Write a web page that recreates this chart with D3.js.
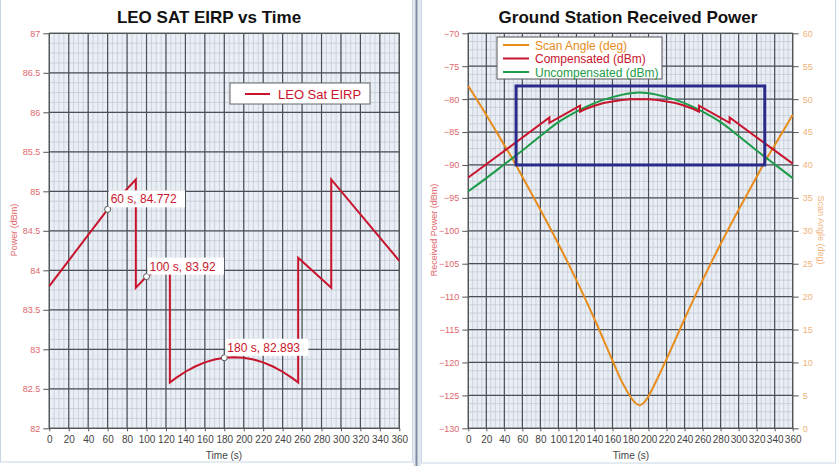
<!DOCTYPE html>
<html>
<head>
<meta charset="utf-8">
<script src="https://cdn.jsdelivr.net/npm/d3@7"></script>
<style>
  body { margin: 0; background: #fff; }
  svg { display: block; font-family: Arial, "Liberation Sans", sans-serif; }
</style>
</head>
<body>
<svg width="836" height="466"></svg>
<script>
// ---- data ----
var timeTicks = [0, 20, 40, 60, 80, 100, 120, 140, 160, 180, 200, 220, 240, 260, 280, 300, 320, 340, 360];
var eirpTicks = [82, 82.5, 83, 83.5, 84, 84.5, 85, 85.5, 86, 86.5, 87];
var rxTicks = [-130, -125, -120, -115, -110, -105, -100, -95, -90, -85, -80, -75, -70];
var angleTicks = [0, 5, 10, 15, 20, 25, 30, 35, 40, 45, 50, 55, 60];

// [time s, power dBm]
var eirp = [[0, 83.8], [60, 84.772], [89, 85.15], [89, 83.78], [100, 83.92], [124, 84.1], [124, 82.58],
  [130, 82.635], [140, 82.716], [150, 82.782], [160, 82.834], [170, 82.871], [180, 82.893], [190, 82.9],
  [200, 82.893], [210, 82.871], [220, 82.834], [230, 82.782], [240, 82.716], [250, 82.635], [256, 82.58],
  [256, 84.16], [290, 83.78], [290, 85.15], [360, 84.12]];
var eirpNotes = [[60, 84.772, "60 s, 84.772"], [100, 83.92, "100 s, 83.92"], [180, 82.893, "180 s, 82.893"]];

// [time s, scan angle deg]
var scanAngle = [[0, 52.0], [20, 47.6], [40, 43.0], [53, 40.0], [60, 38.2], [80, 33.2], [100, 28.0],
  [120, 22.5], [140, 16.6], [160, 10.3], [170, 7.2], [180, 4.8], [185, 3.9], [190, 3.5], [195, 3.9],
  [200, 4.9], [210, 7.6], [220, 10.5], [240, 16.6], [260, 22.5], [280, 28.0], [300, 33.2], [320, 38.2],
  [327, 40.0], [340, 43.0], [360, 47.6]];
// [time s, received power dBm]
var compensated = [[0, -91.9], [90, -82.8], [90, -83.6], [124, -81.0], [124, -81.9], [130, -81.5],
  [140, -81.0], [150, -80.6], [160, -80.35], [170, -80.15], [180, -80.03], [190, -80.0], [200, -80.03],
  [210, -80.15], [220, -80.35], [230, -80.6], [240, -81.0], [250, -81.5], [256, -81.9], [256, -81.0],
  [290, -83.6], [290, -82.8], [360, -89.8]];
var uncompensated = [[0, -94.0], [20, -92.0], [40, -89.9], [60, -87.8], [80, -85.6], [100, -83.5],
  [120, -81.9], [140, -80.6], [160, -79.7], [180, -79.1], [190, -79.0], [200, -79.1], [220, -79.7],
  [240, -80.6], [260, -81.9], [280, -83.5], [300, -85.6], [320, -87.8], [340, -89.9], [360, -92.0]];
// highlight box: time range, power range
var boxTime = [53, 329];
var boxPower = [-90, -78];

var svg = d3.select("svg");

var red = "#c8142c", orange = "#e88c1c", green = "#1c9c48", navy = "#2a2a8c";
var redLabel = "#e0686c", orangeLabel = "#f0b27a";

// panels
svg.append("rect").attr("width", 836).attr("height", 466).attr("fill", "#fff");
svg.append("rect").attr("x", 0.5).attr("y", -1).attr("width", 412).attr("height", 463)
    .attr("fill", "#fff").attr("stroke", "#c9d6e6");
svg.append("rect").attr("x", 413).attr("y", 0).attr("width", 8).attr("height", 466).attr("fill", "#e3e8ef");
svg.append("line").attr("x1", 416.5).attr("x2", 416.5).attr("y1", 0).attr("y2", 466)
    .attr("stroke", "#7f8ea3").attr("stroke-width", 2);
svg.append("rect").attr("x", 421.5).attr("y", -1).attr("width", 414).attr("height", 464)
    .attr("fill", "#fff").attr("stroke", "#c9d6e6");

function drawGrid(g, x, y, yMinor) {
  var w = x.range()[1], h = y.range()[0];
  g.append("rect").attr("width", w).attr("height", h).attr("fill", "#eaeef5");
  g.append("g").selectAll("line").data(d3.range(0, 361, 5)).enter().append("line")
      .attr("x1", x).attr("x2", x).attr("y1", 0).attr("y2", h)
      .attr("stroke", "#c4cbd7").attr("stroke-width", 0.8);
  g.append("g").selectAll("line").data(yMinor).enter().append("line")
      .attr("x1", 0).attr("x2", w).attr("y1", y).attr("y2", y)
      .attr("stroke", "#c4cbd7").attr("stroke-width", 0.8);
  g.append("g").selectAll("line").data(timeTicks).enter().append("line")
      .attr("x1", x).attr("x2", x).attr("y1", 0).attr("y2", h)
      .attr("stroke", "#4a4f58").attr("stroke-width", 1.2);
  g.append("g").selectAll("line").data(y.ticksList).enter().append("line")
      .attr("x1", 0).attr("x2", w).attr("y1", y).attr("y2", y)
      .attr("stroke", "#4a4f58").attr("stroke-width", 1.2);
}

function styleAxis(sel, color, size) {
  sel.select(".domain").remove();
  sel.selectAll(".tick line").attr("stroke", "#555");
  sel.selectAll(".tick text").attr("fill", color).style("font-size", size + "px");
}

// ---------------- left chart ----------------
var W1 = 350, H1 = 395;
var g1 = svg.append("g").attr("transform", "translate(49.3,33.3)");
var x1 = d3.scaleLinear().domain([0, 360]).range([0, W1]);
var y1 = d3.scaleLinear().domain([82, 87]).range([H1, 0]);
y1.ticksList = eirpTicks;

drawGrid(g1, x1, y1, d3.range(82, 87.001, 0.125));

g1.append("g").attr("transform", "translate(0," + H1 + ")")
    .call(d3.axisBottom(x1).tickValues(timeTicks).tickSize(3).tickPadding(5))
    .call(styleAxis, "#444", 10);
g1.append("g")
    .call(d3.axisLeft(y1).tickValues(eirpTicks).tickSize(6).tickPadding(3).tickFormat(d3.format("")))
    .call(styleAxis, redLabel, 9);
g1.append("rect").attr("width", W1).attr("height", H1).attr("fill", "none").attr("stroke", "#555");

var line1 = d3.line().x(function(d) { return x1(d[0]); }).y(function(d) { return y1(d[1]); });
g1.append("path").datum(eirp).attr("d", line1)
    .attr("fill", "none").attr("stroke", red).attr("stroke-width", 2);

var note = g1.selectAll(".note").data(eirpNotes).enter().append("g").attr("class", "note");
note.append("circle")
    .attr("cx", function(d) { return x1(d[0]); })
    .attr("cy", function(d) { return y1(d[1]); })
    .attr("r", 3).attr("fill", "#fff").attr("stroke", "#555");
note.append("text")
    .attr("x", function(d) { return x1(d[0]) + 3; })
    .attr("y", function(d) { return y1(d[1]) - 6; })
    .attr("fill", red).style("font-size", "12px")
    .text(function(d) { return d[2]; });
note.each(function() {
  var t = d3.select(this).select("text"), b = t.node().getBBox();
  d3.select(this).insert("rect", "text")
      .attr("x", b.x - 2).attr("y", b.y - 2).attr("width", b.width + 10).attr("height", b.height + 3)
      .attr("fill", "#fff");
});

var leg1 = svg.append("g").attr("transform", "translate(230,83)");
leg1.append("rect").attr("width", 140).attr("height", 21).attr("fill", "#fff").attr("stroke", "#666");
leg1.append("line").attr("x1", 15).attr("x2", 40).attr("y1", 11).attr("y2", 11)
    .attr("stroke", red).attr("stroke-width", 2);
leg1.append("text").attr("x", 48).attr("y", 15.5).attr("fill", red)
    .style("font-size", "13px").text("LEO Sat EIRP");

svg.append("text").attr("x", 209).attr("y", 23).attr("text-anchor", "middle")
    .style("font-size", "17px").style("font-weight", "bold").attr("fill", "#111")
    .text("LEO SAT EIRP vs Time");
svg.append("text").attr("x", 224).attr("y", 459).attr("text-anchor", "middle")
    .style("font-size", "10px").attr("fill", "#444").text("Time (s)");
svg.append("text").attr("transform", "translate(17,230) rotate(-90)").attr("text-anchor", "middle")
    .style("font-size", "9px").attr("fill", redLabel).text("Power (dBm)");

// ---------------- right chart ----------------
var W2 = 324.4, H2 = 395;
var g2 = svg.append("g").attr("transform", "translate(468.3,33.3)");
var x2 = d3.scaleLinear().domain([0, 360]).range([0, W2]);
var y2 = d3.scaleLinear().domain([-130, -70]).range([H2, 0]);
var a2 = d3.scaleLinear().domain([0, 60]).range([H2, 0]);
y2.ticksList = rxTicks;

drawGrid(g2, x2, y2, d3.range(-130, -69.99, 1.25));

g2.append("g").attr("transform", "translate(0," + H2 + ")")
    .call(d3.axisBottom(x2).tickValues(timeTicks).tickSize(3).tickPadding(5))
    .call(styleAxis, "#444", 10);
g2.append("g")
    .call(d3.axisLeft(y2).tickValues(rxTicks).tickSize(6).tickPadding(3))
    .call(styleAxis, redLabel, 9);
g2.append("g").attr("transform", "translate(" + W2 + ",0)")
    .call(d3.axisRight(a2).tickValues(angleTicks).tickSize(6).tickPadding(4))
    .call(styleAxis, orangeLabel, 9);
g2.append("rect").attr("width", W2).attr("height", H2).attr("fill", "none").attr("stroke", "#555");

var lineA = d3.line().x(function(d) { return x2(d[0]); }).y(function(d) { return a2(d[1]); });
var lineP = d3.line().x(function(d) { return x2(d[0]); }).y(function(d) { return y2(d[1]); });

g2.append("path").datum(scanAngle).attr("d", lineA.curve(d3.curveMonotoneX))
    .attr("fill", "none").attr("stroke", orange).attr("stroke-width", 2);
g2.append("path").datum(uncompensated).attr("d", lineP.curve(d3.curveMonotoneX)(uncompensated))
    .attr("fill", "none").attr("stroke", green).attr("stroke-width", 2);
g2.append("path").datum(compensated).attr("d", lineP.curve(d3.curveLinear)(compensated))
    .attr("fill", "none").attr("stroke", red).attr("stroke-width", 2);

g2.append("rect")
    .attr("x", x2(boxTime[0])).attr("y", y2(boxPower[1]))
    .attr("width", x2(boxTime[1]) - x2(boxTime[0]))
    .attr("height", y2(boxPower[0]) - y2(boxPower[1]))
    .attr("fill", "none").attr("stroke", navy).attr("stroke-width", 3);

var legItems = [["Scan Angle (deg)", orange], ["Compensated (dBm)", red], ["Uncompensated (dBm)", green]];
var leg2 = svg.append("g").attr("transform", "translate(497,37)");
leg2.append("rect").attr("width", 165).attr("height", 42).attr("fill", "#fff").attr("stroke", "#555");
var li = leg2.selectAll(".li").data(legItems).enter().append("g")
    .attr("transform", function(d, i) { return "translate(0," + (8 + i * 13.5) + ")"; });
li.append("line").attr("x1", 6).attr("x2", 32).attr("y1", 0).attr("y2", 0)
    .attr("stroke", function(d) { return d[1]; }).attr("stroke-width", 2);
li.append("text").attr("x", 38).attr("y", 4.5).style("font-size", "12px")
    .attr("fill", function(d) { return d[1]; }).text(function(d) { return d[0]; });

svg.append("text").attr("x", 628).attr("y", 23).attr("text-anchor", "middle")
    .style("font-size", "17px").style("font-weight", "bold").attr("fill", "#111")
    .text("Ground Station Received Power");
svg.append("text").attr("x", 631).attr("y", 459).attr("text-anchor", "middle")
    .style("font-size", "10px").attr("fill", "#444").text("Time (s)");
svg.append("text").attr("transform", "translate(437,230) rotate(-90)").attr("text-anchor", "middle")
    .style("font-size", "9px").attr("fill", redLabel).text("Received Power (dBm)");
svg.append("text").attr("transform", "translate(818,230) rotate(90)").attr("text-anchor", "middle")
    .style("font-size", "9px").attr("fill", orangeLabel).text("Scan Angle (deg)");
</script>
</body>
</html>
